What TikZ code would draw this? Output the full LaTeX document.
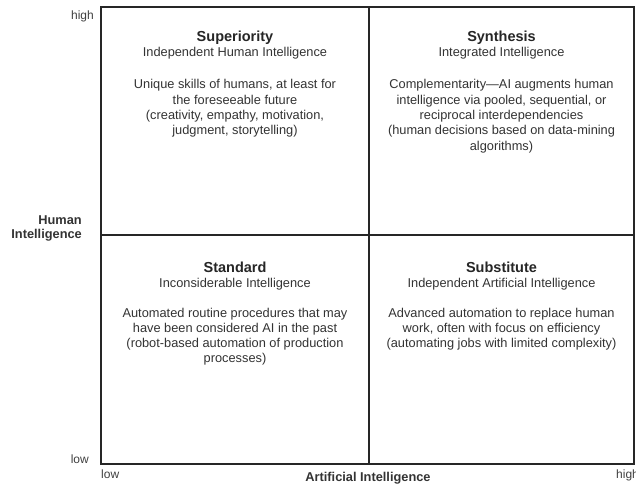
\documentclass[tikz,border=0pt]{standalone}
\usepackage{fontspec}
\setmainfont{Liberation Sans}
\begin{document}
\begin{tikzpicture}[x=1pt,y=-1pt,
 frame/.style={line width=1.6pt, draw=black!85},
 ttl/.style={font=\fontsize{14.5}{17}\selectfont\bfseries, anchor=base, text=black!85, inner sep=0pt},
 sub/.style={font=\fontsize{12.8}{15.3}\selectfont, anchor=base, inner sep=0pt, text=black!80},
 body/.style={sub, align=center},
 tick/.style={font=\fontsize{12}{14}\selectfont, inner sep=0pt, text=black!75},
 axlabel/.style={font=\fontsize{12.8}{14}\selectfont\bfseries, inner sep=0pt, text=black!80}]
\useasboundingbox (0,0) rectangle (636,486);
\fill[white] (0,0) rectangle (636,486);
\coordinate (tl) at (101,7);
\coordinate (br) at (634,464);
\coordinate (mt) at (369,7);
\coordinate (mb) at (369,464);
\coordinate (ml) at (101,235);
\coordinate (mr) at (634,235);
\draw[frame] (tl) rectangle (br);
\draw[frame] (mt) -- (mb);
\draw[frame] (ml) -- (mr);
% top-left (body anchored at baseline of its last line)
\node[ttl] (t1) at (235,42) {Superiority};
\node[sub] (s1) at (235,57) {Independent Human Intelligence};
\node[body] (b1) at (235,134.9) {Unique skills of humans, at least for\\the foreseeable future\\(creativity, empathy, motivation,\\judgment, storytelling)};
% top-right
\node[ttl] (t2) at (501.5,42) {Synthesis};
\node[sub] (s2) at (501.5,57) {Integrated Intelligence};
\node[body] (b2) at (501.5,150.2) {Complementarity—AI augments human\\intelligence via pooled, sequential, or\\reciprocal interdependencies\\(human decisions based on data-mining\\algorithms)};
% bottom-left
\node[ttl] (t3) at (235,272) {Standard};
\node[sub] (s3) at (235,287) {Inconsiderable Intelligence};
\node[body] (b3) at (235,362.9) {Automated routine procedures that may\\have been considered AI in the past\\(robot-based automation of production\\processes)};
% bottom-right
\node[ttl] (t4) at (501.5,272) {Substitute};
\node[sub] (s4) at (501.5,287) {Independent Artificial Intelligence};
\node[body] (b4) at (501.5,347.6) {Advanced automation to replace human\\work, often with focus on efficiency\\(automating jobs with limited complexity)};
% axes
\node[tick, anchor=base east] (yh) at (94,20) {high};
\node[tick, anchor=base east] (yl) at (89,463) {low};
\node[axlabel, anchor=base east, align=right] (yax) at (82,238) {Human\\Intelligence};
\node[tick, anchor=base west] (xl) at (101,478) {low};
\node[axlabel, anchor=base] (xax) at (368,481) {Artificial Intelligence};
\node[tick, anchor=base west] (xh) at (616,478) {high};
\end{tikzpicture}
\end{document}
